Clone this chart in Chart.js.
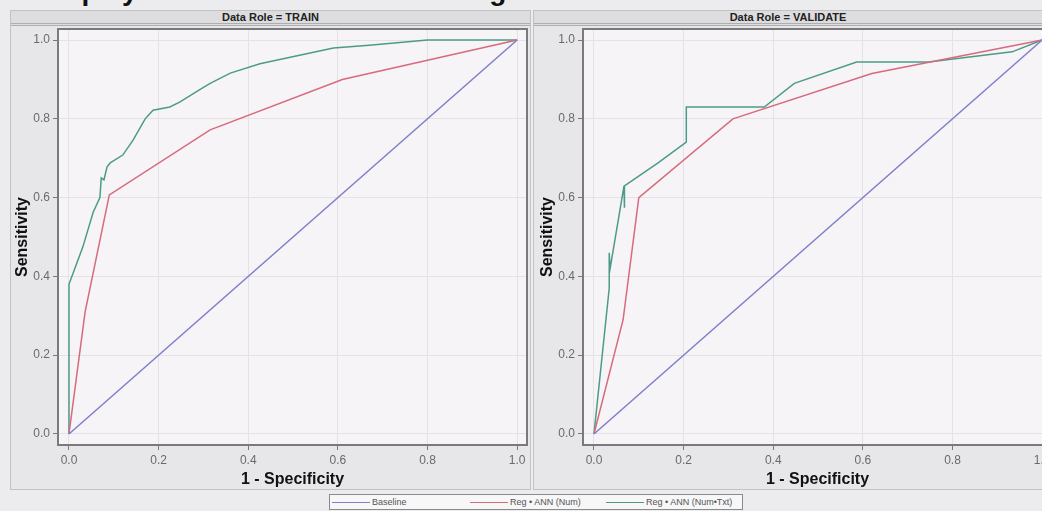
<!DOCTYPE html>
<html lang="en">
<head>
<meta charset="UTF-8">
<title>ROC Curves</title>
<script src="https://cdn.jsdelivr.net/npm/chart.js"></script>
<style>
  body {
    margin: 0;
    width: 1042px;
    height: 511px;
    overflow: hidden;
    position: relative;
    background: #ececee;
    font-family: 'Liberation Sans', Arial, sans-serif;
  }
  .title {
    position: absolute;
    left: 38px;
    top: -23px;
    font-size: 28px;
    line-height: 28px;
    font-weight: bold;
    white-space: nowrap;
    color: #111;
  }
  .panel {
    position: absolute;
    top: 10px;
    height: 480px;
    box-sizing: border-box;
    background: #e7e6e9;
    border: 1px solid #c2c2c4;
  }
  .panel .head {
    height: 12px;
    line-height: 12px;
    border-bottom: 3px double #aeaeb0;
    background: #dddcdf;
    font-size: 11px;
    font-weight: bold;
    text-align: center;
    color: #222;
  }
  .plot {
    position: absolute;
    top: 24px;
    width: 520px;
    height: 466px;
  }
  .legend {
    position: absolute;
    left: 329px;
    top: 494px;
    width: 414px;
    height: 16px;
    box-sizing: border-box;
    background: #f7f7f8;
    border: 1px solid #8a8a8c;
    font-size: 9px;
    color: #555;
  }
  .legend span {
    position: absolute;
    top: 2px;
    line-height: 10px;
    white-space: nowrap;
  }
  .legend i {
    display: inline-block;
    width: 38px;
    height: 1px;
    vertical-align: middle;
    margin-right: 2px;
  }
</style>
</head>
<body>
  <div class="title">Display of ROC Curves for Training</div>

  <div class="panel" style="left:10px; width:521px;"><div class="head">Data Role = TRAIN</div></div>
  <div class="panel" style="left:533px; width:520px;"><div class="head" style="padding-right:10px;">Data Role = VALIDATE</div></div>

  <div class="plot" style="left:10px;"><canvas id="trainChart" width="520" height="466"></canvas></div>
  <div class="plot" style="left:535px;"><canvas id="validChart" width="520" height="466"></canvas></div>

  <div class="legend">
    <span style="left:2px;"><i style="background:#7e7fcb"></i>Baseline</span>
    <span style="left:140px;"><i style="background:#d66b7c"></i>Reg • ANN (Num)</span>
    <span style="left:276px;"><i style="background:#4d9a89"></i>Reg • ANN (Num•Txt)</span>
  </div>

<script>
// tick positions shared by both axes
const tickVals = [0, 0.2, 0.4, 0.6, 0.8, 1.0];

// baseline
const baseX = [0, 1];
const baseY = [0, 1];

// TRAIN - Reg + ANN (Num)
const trainNumX = [0, 0.036, 0.09, 0.315, 0.61, 1];
const trainNumY = [0, 0.31, 0.607, 0.772, 0.90, 1];

// TRAIN - Reg + ANN (Num+Txt)
const trainTxtX = [0, 0, 0.031, 0.054, 0.069, 0.072, 0.078, 0.085, 0.092, 0.12, 0.143, 0.17, 0.1875, 0.225, 0.248, 0.29, 0.315, 0.36, 0.426, 0.59, 0.67, 0.80, 1];
const trainTxtY = [0, 0.38, 0.475, 0.563, 0.60, 0.65, 0.645, 0.678, 0.688, 0.708, 0.746, 0.80, 0.822, 0.83, 0.843, 0.873, 0.89, 0.916, 0.94, 0.98, 0.987, 1.0, 1.0];

// VALIDATE - Reg + ANN (Num)
const validNumX = [0, 0.065, 0.10, 0.31, 0.62, 1];
const validNumY = [0, 0.29, 0.60, 0.80, 0.915, 1];

// VALIDATE - Reg + ANN (Num+Txt)
const validTxtX = [0, 0.034, 0.034, 0.036, 0.067, 0.067, 0.069, 0.143, 0.206, 0.206, 0.38, 0.447, 0.586, 0.747, 0.933, 1];
const validTxtY = [0, 0.37, 0.46, 0.42, 0.63, 0.574, 0.63, 0.688, 0.741, 0.83, 0.83, 0.89, 0.944, 0.944, 0.97, 1];

const pts = (xs, ys) => xs.map((x, i) => ({ x: x, y: ys[i] }));

// plot area fill + frame
const plotFrame = {
  id: 'plotFrame',
  beforeDraw(chart) {
    const a = chart.chartArea, ctx = chart.ctx;
    ctx.save();
    ctx.fillStyle = '#f6f4f7';
    ctx.fillRect(a.left, a.top, a.right - a.left, a.bottom - a.top);
    ctx.restore();
  },
  afterDraw(chart) {
    const a = chart.chartArea, ctx = chart.ctx;
    ctx.save();
    ctx.strokeStyle = '#7a7a7c';
    ctx.lineWidth = 2;
    ctx.strokeRect(a.left, a.top, a.right - a.left, a.bottom - a.top);
    ctx.restore();
  }
};

function line(label, xs, ys, color) {
  return {
    label: label,
    data: pts(xs, ys),
    showLine: true,
    borderColor: color,
    backgroundColor: color,
    borderWidth: 1.5,
    pointRadius: 0,
    tension: 0
  };
}

function axis(title, min, max, fit, titlePad) {
  return {
    type: 'linear',
    min: min,
    max: max,
    afterFit: fit,
    afterBuildTicks: s => { s.ticks = tickVals.map(v => ({ value: v })); },
    ticks: {
      callback: v => v.toFixed(1),
      color: '#6a6a6a',
      font: { size: 12 },
      padding: 3
    },
    grid: { color: '#e4e2e6', tickColor: '#7a7a7c', tickLength: 5 },
    border: { display: false },
    title: {
      display: true,
      text: title,
      color: '#111',
      font: { size: 16, weight: 'bold' },
      padding: titlePad
    }
  };
}

function rocChart(id, numX, numY, txtX, txtY) {
  return new Chart(document.getElementById(id), {
    type: 'scatter',
    data: {
      datasets: [
        line('Baseline', baseX, baseY, '#7e7fcb'),
        line('Reg • ANN (Num)', numX, numY, '#d66b7c'),
        line('Reg • ANN (Num•Txt)', txtX, txtY, '#4d9a89')
      ]
    },
    options: {
      responsive: false,
      animation: false,
      layout: { padding: { top: 5, right: 3, left: 0, bottom: 0 } },
      plugins: { legend: { display: false }, tooltip: { enabled: false } },
      scales: {
        x: axis('1 - Specificity', -0.0245, 1.022,
          s => { s.height = 45; s.paddingLeft = 0; s.paddingRight = 0; },
          { top: 0, bottom: 1 }),
        y: axis('Sensitivity', -0.028, 1.028,
          s => { s.width = 48; s.paddingTop = 0; s.paddingBottom = 0; },
          { top: 3, bottom: 0 })
      }
    },
    plugins: [plotFrame]
  });
}

Chart.defaults.font.family = "'Liberation Sans', Arial, sans-serif";

rocChart('trainChart', trainNumX, trainNumY, trainTxtX, trainTxtY);
rocChart('validChart', validNumX, validNumY, validTxtX, validTxtY);
</script>
</body>
</html>
